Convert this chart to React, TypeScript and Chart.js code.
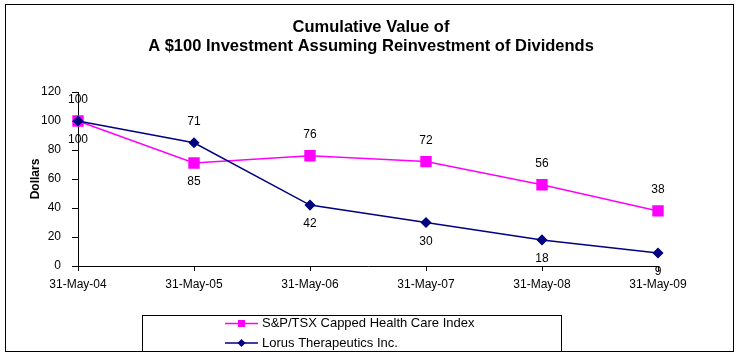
import React, { useEffect, useRef } from 'react';
import { Chart, registerables } from 'chart.js';

Chart.register(...registerables);

const FONT = "'Liberation Sans', Arial, sans-serif";

const categories = ['31-May-04', '31-May-05', '31-May-06', '31-May-07', '31-May-08', '31-May-09'];
const spTsxValues = [100, 71, 76, 72, 56, 38];
const lorusValues = [100, 85, 42, 30, 18, 9];
const seriesNames = ['S&P/TSX Capped Health Care Index', 'Lorus Therapeutics Inc.'];
const titleLines = ['Cumulative Value of', 'A $100 Investment Assuming Reinvestment of Dividends'];
const yAxisTitle = 'Dollars';
const yMin = 0;
const yMax = 120;
const yStep = 20;

const PINK = '#FF00FF';
const NAVY = '#000080';

const decor = {
  id: 'decor',
  beforeDraw(chart: any) {
    const ctx = chart.ctx;
    ctx.save();
    ctx.fillStyle = '#ffffff';
    ctx.fillRect(0, 0, chart.width, chart.height);
    ctx.restore();
  },
  afterDraw(chart: any) {
    const ctx = chart.ctx;
    const ds = chart.data.datasets;
    const m0 = chart.getDatasetMeta(0);
    const m1 = chart.getDatasetMeta(1);
    ctx.save();

    // title
    ctx.fillStyle = '#000';
    ctx.textAlign = 'center';
    ctx.textBaseline = 'middle';
    ctx.font = 'bold 16.5px ' + FONT;
    titleLines.forEach((t, i) => {
      ctx.fillText(t, 371, 27 + i * 19.5);
    });

    // data labels
    ctx.font = '12px ' + FONT;
    (chart.data.labels as string[]).forEach((_, i) => {
      const p0 = m0.data[i];
      const p1 = m1.data[i];
      const top = Math.min(p0.y, p1.y);
      const bot = Math.max(p0.y, p1.y);
      ctx.fillText(String(ds[0].data[i]), p0.x, top - 21);
      ctx.fillText(String(ds[1].data[i]), p1.x, bot + 19);
    });

    // legend box
    ctx.strokeStyle = '#000';
    ctx.lineWidth = 1;
    ctx.strokeRect(142.5, 315.5, 419, 36);
    ds.forEach((d: any, k: number) => {
      const y = 323.5 + k * 19.5;
      ctx.strokeStyle = d.borderColor;
      ctx.lineWidth = 1.5;
      ctx.beginPath();
      ctx.moveTo(225, y);
      ctx.lineTo(258, y);
      ctx.stroke();
      ctx.fillStyle = d.pointBackgroundColor;
      const cx = 241.5;
      if (d.pointStyle === 'rect') {
        ctx.fillRect(cx - 3.5, y - 3.5, 7, 7);
      } else {
        ctx.beginPath();
        ctx.moveTo(cx, y - 4);
        ctx.lineTo(cx + 4, y);
        ctx.lineTo(cx, y + 4);
        ctx.lineTo(cx - 4, y);
        ctx.closePath();
        ctx.fill();
      }
      ctx.fillStyle = '#000';
      ctx.textAlign = 'left';
      ctx.font = '13px ' + FONT;
      ctx.fillText(d.label, 262, y);
    });

    // outer border
    ctx.strokeStyle = '#000';
    ctx.lineWidth = 1;
    ctx.strokeRect(5.5, 4.5, 728, 347);
    ctx.restore();
  },
};

export default function App() {
  const ref = useRef<HTMLCanvasElement>(null);
  useEffect(() => {
    if (!ref.current) return;
    const chart = new Chart(ref.current, {
      type: 'line',
      data: {
        labels: categories,
        datasets: [
          {
            label: seriesNames[0],
            data: spTsxValues,
            borderColor: PINK,
            backgroundColor: PINK,
            pointBackgroundColor: PINK,
            pointBorderColor: PINK,
            pointStyle: 'rect',
            pointRadius: 7,
            borderWidth: 1.5,
            order: 2,
          },
          {
            label: seriesNames[1],
            data: lorusValues,
            borderColor: NAVY,
            backgroundColor: NAVY,
            pointBackgroundColor: NAVY,
            pointBorderColor: NAVY,
            pointStyle: 'rectRot',
            pointRadius: 4.5,
            borderWidth: 1.5,
            order: 1,
          },
        ],
      },
      options: {
        responsive: false,
        animation: false,
        layout: { padding: { left: 0, right: 82, top: 92, bottom: 0 } },
        plugins: {
          legend: { display: false },
          tooltip: { enabled: false },
          title: { display: false },
        },
        scales: {
          x: {
            type: 'category',
            offset: false,
            grid: { drawOnChartArea: false, drawTicks: true, tickLength: 5, color: '#000' },
            border: { display: true, color: '#000', width: 1 },
            ticks: {
              color: '#000',
              font: { family: FONT, size: 12 },
              padding: 6,
              maxRotation: 0,
              autoSkip: false,
            },
            afterFit: (scale: any) => {
              scale.height = 89;
            },
          },
          y: {
            min: yMin,
            max: yMax,
            grid: { drawOnChartArea: false, drawTicks: true, tickLength: 6, color: '#000' },
            border: { display: true, color: '#000', width: 1 },
            ticks: {
              stepSize: yStep,
              color: '#000',
              font: { family: FONT, size: 12 },
              padding: 11,
            },
            title: {
              display: true,
              text: yAxisTitle,
              color: '#000',
              font: { family: FONT, size: 12, weight: 'bold' },
              padding: { top: 28, bottom: 0 },
            },
            afterFit: (scale: any) => {
              scale.width = 78;
            },
          },
        },
      },
      plugins: [decor],
    });
    return () => chart.destroy();
  }, []);
  return (
    <div style={{ position: 'absolute', left: 0, top: 0, width: 740, height: 355 }}>
      <canvas ref={ref} width={740} height={355} style={{ width: 740, height: 355 }} />
    </div>
  );
}
